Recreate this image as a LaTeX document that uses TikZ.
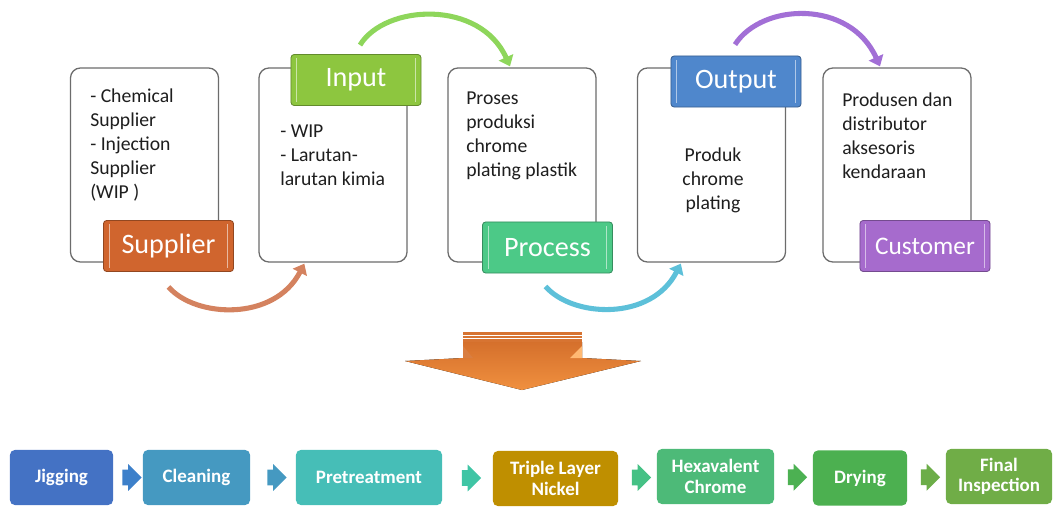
\documentclass[tikz,border=0pt]{standalone}
\usepackage{fontspec}
\setmainfont{Carlito}
\usepackage{tikz}
\usetikzlibrary{arrows.meta}
\usetikzlibrary{positioning}
\usetikzlibrary{calc}
\usetikzlibrary{shapes.arrows}
\definecolor{suppcol}{HTML}{D0652E}
\definecolor{inputcol}{HTML}{8DC63F}
\definecolor{proccol}{HTML}{4CC987}
\definecolor{outcol}{HTML}{4F87CC}
\definecolor{custcol}{HTML}{A66BCD}
\definecolor{arcorange}{HTML}{D4825F}
\definecolor{arcgreen}{HTML}{8ED65B}
\definecolor{arcblue}{HTML}{5DC0D9}
\definecolor{arcpurple}{HTML}{A26FD6}
\definecolor{bigtop}{HTML}{D5702C}
\definecolor{bigbottom}{HTML}{F0903F}
\definecolor{bigband}{HTML}{D77432}
\definecolor{jigcol}{HTML}{4472C4}
\definecolor{cleancol}{HTML}{4599C1}
\definecolor{precol}{HTML}{46BEB7}
\definecolor{nickelcol}{HTML}{BF8F00}
\definecolor{chromecol}{HTML}{4DBA78}
\definecolor{drycol}{HTML}{4CB050}
\definecolor{finalcol}{HTML}{70AD47}
\definecolor{textcol}{HTML}{1E1E1E}
\tikzset{>=latex}
\tikzset{
    card/.style = {draw=gray!85!black, fill=white, line width=0.9pt, rounded corners=2.5mm, minimum width=37mm, minimum height=48.5mm},
    cardtext/.style = {inner sep=0pt, align=left, text=textcol, font=\fontsize{14}{17}\selectfont},
    curve/.style = {line width=3.6pt, -{Triangle[length=7pt,width=11pt]}},
}
\tikzset{
    tag/.style={draw=#1!70!black, fill=#1, line width=0.6pt, rounded corners=0.8mm, minimum width=32.5mm, minimum height=12.75mm, text=white, font=\fontsize{20}{22}\selectfont,
        path picture={
            \draw[white,opacity=.55,line width=.7pt] ([shift={(1.4mm,-1mm)}]path picture bounding box.north west) -- ([shift={(1.4mm,1mm)}]path picture bounding box.south west);
            \draw[white,opacity=.55,line width=.7pt] ([shift={(-1.4mm,-1mm)}]path picture bounding box.north east) -- ([shift={(-1.4mm,1mm)}]path picture bounding box.south east);
        }
    },
    stage/.style={fill=#1, rounded corners=1.2mm, minimum height=13.75mm, inner sep=1pt, text=white, align=center, font=\bfseries\fontsize{13.5}{14.5}\selectfont},
    flowarrow/.style={single arrow, fill=#1, inner xsep=0pt, inner ysep=1.9mm, minimum height=4.8mm, single arrow head extend=1.4mm}
}
\begin{document}
\begin{tikzpicture}[x=0.025cm,y=-0.025cm]
\useasboundingbox (0,0) rectangle (1054,507);
% top row
\node[card] (supbox) at (144.5,165) {};
\node[card] (inbox) at (333,165) {};
\node[card] (procbox) at (522,165) {};
\node[card] (outbox) at (711.5,165) {};
\node[card] (custbox) at (897,165) {};
\node[tag=suppcol] (suptag) at (168.5,246) {Supplier};
\node[tag=inputcol] (intag) at (356,80) {Input};
\node[tag=proccol] (proctag) at (547.5,247.5) {Process};
\node[tag=outcol] (outtag) at (736,81.5) {Output};
\node[tag=custcol, font=\fontsize{18}{20}\selectfont] (custtag) at (925,246) {Customer};
\node[cardtext, anchor=north west] (suptxt) at (90,89) {- Chemical\\Supplier\\- Injection\\Supplier\\(WIP )};
\node[cardtext, anchor=north west] (intxt) at (280,125) {- WIP\\- Larutan-\\larutan kimia};
\node[cardtext, anchor=north west] (proctxt) at (466,92) {Proses\\produksi\\chrome\\plating plastik};
\node[cardtext, anchor=north, align=center] (outtxt) at (713,148) {Produk\\chrome\\plating};
\node[cardtext, anchor=north west] (custtxt) at (842,93) {Produsen dan\\distributor\\aksesoris\\kendaraan};
% curved links
\draw[curve, arcorange] ($(suptag.south)+(0,15)$) .. controls +(27,31) and +(-30,58) .. ($(inbox.south west)+(46,1)$);
\draw[curve, arcgreen] ($(intag.north)+(4,-9)$) .. controls +(25,-41) and +(-30,-67) .. ($(procbox.north)+(-12,-1)$);
\draw[curve, arcblue] ($(proctag.south)+(-2,13)$) .. controls +(27,31) and +(-30,58) .. ($(outbox.south west)+(44,1)$);
\draw[curve, arcpurple] ($(outtag.north)+(-1,-11)$) .. controls +(27,-42) and +(-30,-67) .. ($(custbox.north)+(-17,-1)$);
% big arrow
\fill[top color=bigtop, bottom color=bigbottom] (463,342) -- (582,342) -- (582,358) -- (641,361) -- (522,390) -- (405,361) -- (463,358) -- cycle;
\fill[orange!55!white] (570,358) -- (582,346) -- (582,358) -- cycle;
\fill[bigtop!90!white] (463,346) -- (473,358) -- (463,358) -- cycle;
\fill[bigband] (463,332) rectangle (582,342);
\draw[white, line width=.6pt] (463,335.3) -- (582,335.3) (463,338.8) -- (582,338.8);
% bottom row
\node[stage=jigcol, minimum width=25.75mm] (jig) at (61.5,477.5) {Jigging};
\node[stage=cleancol, minimum width=26.75mm] (clean) at (196.5,477.5) {Cleaning};
\node[stage=precol, minimum width=36.5mm] (pretreat) at (369,477.5) {Pretreatment};
\node[stage=nickelcol, minimum width=31.25mm] (nickel) at (555.5,478.5) {Triple Layer\\Nickel};
\node[stage=chromecol, minimum width=29.25mm] (chrome) at (715.5,476.5) {Hexavalent\\Chrome};
\node[stage=drycol, minimum width=23.5mm] (dry) at (860,478) {Drying};
\node[stage=finalcol, minimum width=26.5mm] (inspect) at (999,476.5) {Final\\Inspection};
\node[flowarrow=jigcol!90!cyan] (a1) at ($(jig.east)!0.5!(clean.west)$) {};
\node[flowarrow=cleancol] (a2) at ($(clean.east)!0.5!(pretreat.west)$) {};
\node[flowarrow=precol!90!green] (a3) at ($(pretreat.east)!0.5!(nickel.west)$) {};
\node[flowarrow=chromecol!90!cyan] (a4) at ($(nickel.east)!0.5!(chrome.west)$) {};
\node[flowarrow=drycol!95!chromecol] (a5) at ($(chrome.east)!0.5!(dry.west)$) {};
\node[flowarrow=finalcol!90!drycol] (a6) at ($(dry.east)!0.5!(inspect.west)$) {};
\end{tikzpicture}
\end{document}
